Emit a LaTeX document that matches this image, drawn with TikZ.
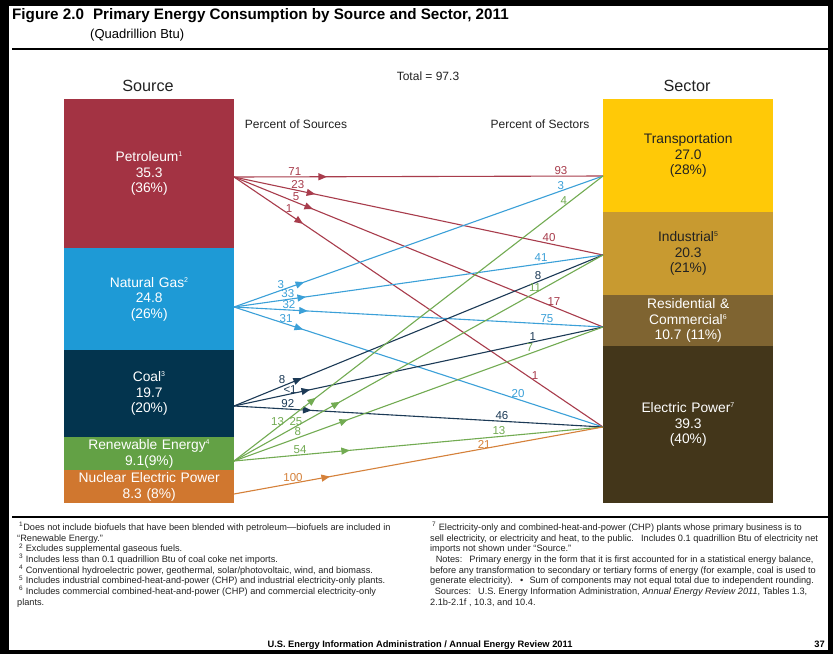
\documentclass[tikz,border=0pt]{standalone}
\usepackage{fontspec}
\setmainfont{Liberation Sans}
\usetikzlibrary{arrows.meta,decorations.markings}
\definecolor{cPet}{HTML}{A33343}
\definecolor{cGas}{HTML}{1E9AD6}
\definecolor{cCoal}{HTML}{03344E}
\definecolor{cRen}{HTML}{63A145}
\definecolor{cNuc}{HTML}{D0772F}
\definecolor{cTra}{HTML}{FFC907}
\definecolor{cInd}{HTML}{C89A30}
\definecolor{cRes}{HTML}{7F6431}
\definecolor{cEle}{HTML}{43361A}
\definecolor{lPet}{HTML}{A83C4C}
\definecolor{lGas}{HTML}{3BA0D8}
\definecolor{lCoal}{HTML}{1C3A56}
\definecolor{lRen}{HTML}{72AB52}
\definecolor{lNuc}{HTML}{D5813A}
\definecolor{ink}{HTML}{222222}
\tikzset{
  boxbase/.style={anchor=north west, inner sep=0pt, minimum width=170pt, text width=168pt, align=center, font=\fontsize{13.8}{15.5}\selectfont},
  flow/.style={line width=1.1pt, color=#1},
  arrowat/.style={postaction={decorate}, decoration={markings, mark=at position #1 with {\arrow{Triangle[length=8.5pt,width=7pt]}}}},
  lab/.style={above, inner sep=1.2pt, font=\fontsize{11.5}{13}\selectfont},
  head/.style={anchor=base, text=ink, font=\fontsize{16.2}{19}\selectfont},
  small/.style={anchor=base, text=ink, font=\fontsize{12}{14}\selectfont},
  note/.style={anchor=north west, inner sep=0pt, align=left, text=ink, font=\fontsize{9.2}{10.7}\selectfont},
}
\begin{document}
\begin{tikzpicture}[x=1pt,y=-1pt]
\useasboundingbox (0,0) rectangle (833,654);
% frame
\fill[black] (0,0) rectangle (833,654);
\fill[white] (9,6) rectangle (828,650);
% title
\node[anchor=base west, inner sep=0pt, text=black, font=\bfseries\fontsize{15.2}{18}\selectfont] (title) at (12,19) {Figure 2.0\hspace{0.6em}Primary Energy Consumption by Source and Sector, 2011};
\node[anchor=base west, inner sep=0pt, text=black, font=\fontsize{13}{15}\selectfont] (unit) at (90,38) {(Quadrillion Btu)};
\draw[line width=2pt, black] (12,49) -- (828,49);
% headers
\node[head] (hsrc) at (148,91) {Source};
\node[head] (hsec) at (687,91) {Sector};
\node[small] (total) at (428,80) {Total = 97.3};
\node[small] (psrc) at (296,128) {Percent of Sources};
\node[small] (psec) at (540,128) {Percent of Sectors};
% source boxes
\node[boxbase, fill=cPet, text=white, minimum height=149pt] (petbox) at (64,99) {Petroleum\textsuperscript{\scriptsize 1}\\35.3\\(36\%)};
\node[boxbase, fill=cGas, text=white, minimum height=102pt] (gasbox) at (64,248) {Natural Gas\textsuperscript{\scriptsize 2}\\24.8\\(26\%)};
\node[boxbase, fill=cCoal, text=white, minimum height=87pt] (coalbox) at (64,350) {Coal\textsuperscript{\scriptsize 3}\\19.7\\(20\%)};
\node[boxbase, fill=cRen, text=white, minimum height=33pt] (renbox) at (64,437) {Renewable Energy\textsuperscript{\scriptsize 4}\\9.1(9\%)};
\node[boxbase, fill=cNuc, text=white, minimum height=33pt] (nucbox) at (64,470) {Nuclear Electric Power\\8.3 (8\%)};
% sector boxes
\node[boxbase, fill=cTra, text=ink, minimum height=113pt] (trabox) at (603,99) {Transportation\\27.0\\(28\%)};
\node[boxbase, fill=cInd, text=ink, minimum height=83pt] (indbox) at (603,212) {Industrial\textsuperscript{\scriptsize 5}\\20.3\\(21\%)};
\node[boxbase, fill=cRes, text=white, minimum height=51pt] (resbox) at (603,295) {Residential \&\\Commercial\textsuperscript{\scriptsize 6}\\10.7 (11\%)};
\node[boxbase, fill=cEle, text=white, minimum height=157pt] (elebox) at (603,346) {Electric Power\textsuperscript{\scriptsize 7}\\39.3\\(40\%)};
% ports
\coordinate (pet) at (234,177);
\coordinate (gas) at (234,307);
\coordinate (coal) at (234,406);
\coordinate (ren) at (234,461);
\coordinate (nuc) at (234,494);
\coordinate (tra) at (603,176);
\coordinate (ind) at (603,255);
\coordinate (res) at (603,327);
\coordinate (ele) at (603,427);
% flows: petroleum
\draw[flow=lPet, arrowat=0.252] (pet) -- (tra) node[lab,pos=0.165]{71} node[lab,pos=0.886]{93};
\draw[flow=lPet, arrowat=0.22] (pet) -- (ind) node[lab,pos=0.173]{23} node[lab,pos=0.854]{40};
\draw[flow=lPet, arrowat=0.214] (pet) -- (res) node[lab,pos=0.168]{5} node[lab,pos=0.867]{17};
\draw[flow=lPet, arrowat=0.187] (pet) -- (ele) node[lab,pos=0.149]{1} node[lab,pos=0.816]{1};
% natural gas
\draw[flow=lGas, arrowat=0.19] (gas) -- (tra) node[lab,pos=0.127]{3} node[lab,pos=0.886]{3};
\draw[flow=lGas, arrowat=0.195] (gas) -- (ind) node[lab,pos=0.146]{33} node[lab,pos=0.832]{41};
\draw[flow=lGas, arrowat=0.2] (gas) -- (res) node[lab,pos=0.149]{32} node[lab,pos=0.848]{75};
\draw[flow=lGas, arrowat=0.187] (gas) -- (ele) node[lab,pos=0.141]{31} node[lab,pos=0.770]{20};
% coal
\draw[flow=lCoal, arrowat=0.184] (coal) -- (ind) node[lab,pos=0.130,inner sep=2.2pt]{8} node[lab,pos=0.824]{8};
\draw[flow=lCoal, arrowat=0.206] (coal) -- (res) node[lab,pos=0.152,inner sep=0.3pt]{<1} node[lab,pos=0.810]{1};
\draw[flow=lCoal, arrowat=0.21] (coal) -- (ele) node[lab,pos=0.146]{92} node[lab,pos=0.726]{46};
% renewable
\draw[flow=lRen, arrowat=0.222] (ren) -- (tra) node[lab,pos=0.118]{13} node[lab,pos=0.894]{4};
\draw[flow=lRen, arrowat=0.287] (ren) -- (ind) node[lab,pos=0.168,inner sep=0.6pt]{25} node[lab,pos=0.816]{11};
\draw[flow=lRen, arrowat=0.309] (ren) -- (res) node[lab,pos=0.173]{8} node[lab,pos=0.802]{7};
\draw[flow=lRen, arrowat=0.314] (ren) -- (ele) node[lab,pos=0.179]{54} node[lab,pos=0.718]{13};
% nuclear
\draw[flow=lNuc, arrowat=0.26] (nuc) -- (ele) node[lab,pos=0.160]{100} node[lab,pos=0.678,inner sep=0pt]{21};
% footnotes
\draw[line width=2pt, black] (12,517) -- (828,517);
\node[note] (notesL) at (17,522) {\hspace{2pt}\textsuperscript{1}Does not include biofuels that have been blended with petroleum—biofuels are included in\\
“Renewable Energy.”\\
\hspace{2pt}\textsuperscript{2} Excludes supplemental gaseous fuels.\\
\hspace{2pt}\textsuperscript{3} Includes less than 0.1 quadrillion Btu of coal coke net imports.\\
\hspace{2pt}\textsuperscript{4} Conventional hydroelectric power, geothermal, solar/photovoltaic, wind, and biomass.\\
\hspace{2pt}\textsuperscript{5} Includes industrial combined-heat-and-power (CHP) and industrial electricity-only plants.\\
\hspace{2pt}\textsuperscript{6} Includes commercial combined-heat-and-power (CHP) and commercial electricity-only\\
plants.};
\node[note] (notesR) at (430,522) {\hspace{2pt}\textsuperscript{7} Electricity-only and combined-heat-and-power (CHP) plants whose primary business is to\\
sell electricity, or electricity and heat, to the public.\hspace{0.4em} Includes 0.1 quadrillion Btu of electricity net\\
imports not shown under “Source.”\\
\hspace{3pt} Notes:\hspace{0.4em} Primary energy in the form that it is first accounted for in a statistical energy balance,\\
before any transformation to secondary or tertiary forms of energy (for example, coal is used to\\
generate electricity).\hspace{0.4em} •\hspace{0.4em} Sum of components may not equal total due to independent rounding.\\
\hspace{2pt} Sources:\hspace{0.4em} U.S. Energy Information Administration, \textit{Annual Energy Review 2011}, Tables 1.3,\\
2.1b-2.1f , 10.3, and 10.4.};
\node[anchor=base, inner sep=0pt, text=black, font=\bfseries\fontsize{9.3}{11}\selectfont] (footer) at (420,647) {U.S. Energy Information Administration / Annual Energy Review 2011};
\node[anchor=base east, inner sep=0pt, text=black, font=\bfseries\fontsize{9.3}{11}\selectfont] (page) at (825,647) {37};
\end{tikzpicture}
\end{document}
